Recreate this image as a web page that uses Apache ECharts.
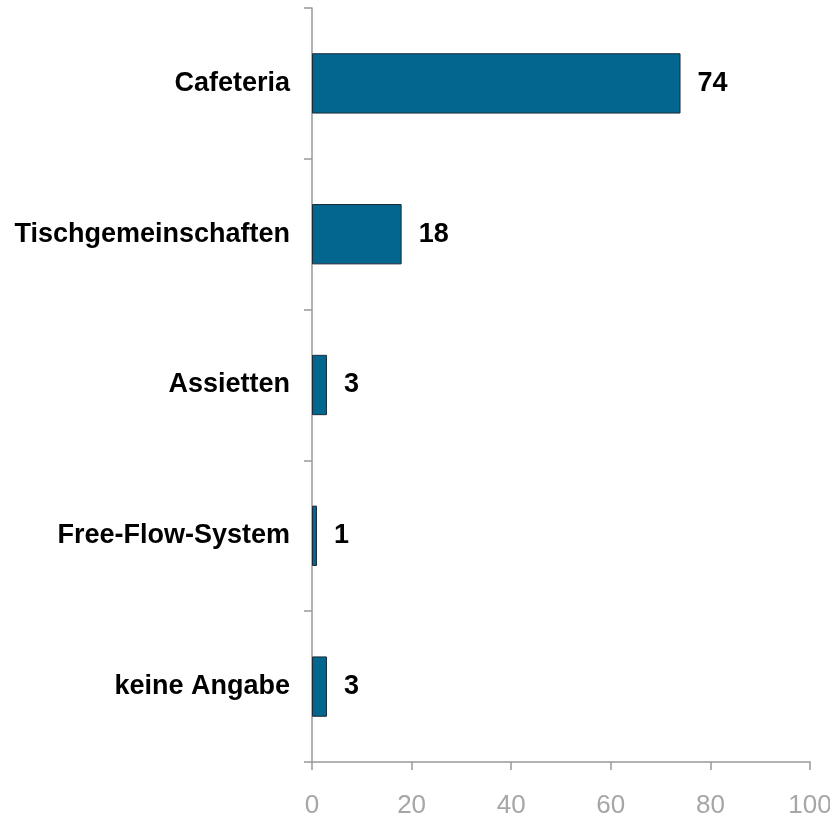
<!DOCTYPE html>
<html>
<head>
<meta charset="utf-8">
<script src="https://cdn.jsdelivr.net/npm/echarts@6/dist/echarts.min.js"></script>
<style>html,body{margin:0;padding:0;background:#fff}#c{width:830px;height:815px}</style>
</head>
<body>
<div id="c"></div>
<script>
const categories = ['Cafeteria', 'Tischgemeinschaften', 'Assietten', 'Free-Flow-System', 'keine Angabe'];
const values = [74, 18, 3, 1, 3];
const xTicks = [0, 20, 40, 60, 80, 100];

const chart = echarts.init(document.getElementById('c'), null, {renderer: 'canvas'});
chart.setOption({
  animation: false,
  backgroundColor: '#fff',
  grid: {left: 312, right: 20, top: 8, bottom: 53, containLabel: false, outerBoundsMode: 'none'},
  xAxis: {
    type: 'value', min: xTicks[0], max: xTicks[xTicks.length - 1], interval: 20,
    axisLine: {show: true, lineStyle: {color: '#999', width: 1.5}},
    axisTick: {show: true, length: 8, lineStyle: {color: '#999', width: 1.5}},
    splitLine: {show: false},
    axisLabel: {color: '#a6a6a6', fontSize: 26, fontFamily: 'Liberation Sans, Arial', margin: 31}
  },
  yAxis: {
    type: 'category', data: categories, inverse: true,
    axisLine: {show: true, lineStyle: {color: '#999', width: 1.5}},
    axisTick: {show: true, length: 8, lineStyle: {color: '#999', width: 1.5}},
    axisLabel: {color: '#000', fontSize: 27, fontWeight: 'bold', fontFamily: 'Liberation Sans, Arial', margin: 22}
  },
  series: [{
    type: 'bar', data: values, barWidth: '40%',
    itemStyle: {color: '#02668E', borderColor: '#1b2b38', borderWidth: 1},
    label: {show: true, position: 'right', distance: 17, color: '#000', fontSize: 27, fontWeight: 'bold', fontFamily: 'Liberation Sans, Arial'}
  }]
});
</script>
</body>
</html>
